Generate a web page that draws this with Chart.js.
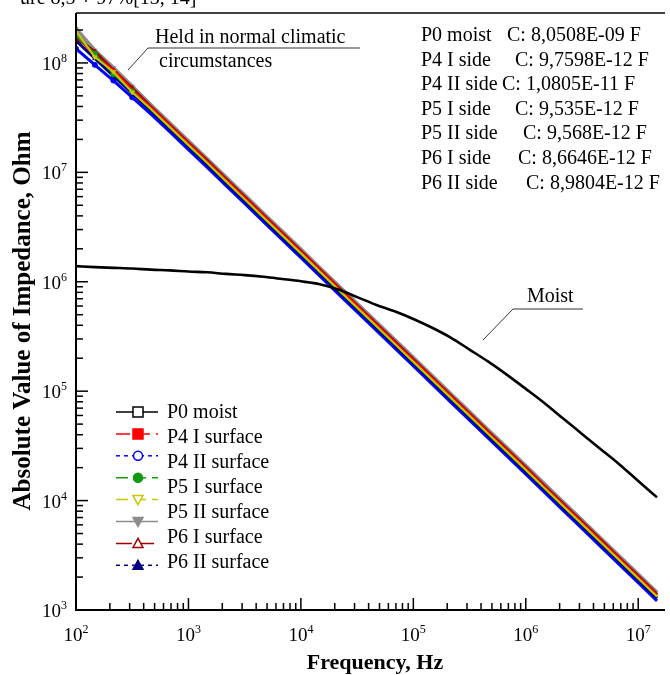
<!DOCTYPE html>
<html>
<head>
<meta charset="utf-8">
<script src="https://cdn.jsdelivr.net/npm/chart.js@4.4.0/dist/chart.umd.min.js"></script>
<style>
  html, body { margin:0; padding:0; background:#fff; }
  #wrap { width:670px; height:675px; }
</style>
</head>
<body>
<div id="wrap"><canvas id="chart" width="670" height="675"></canvas></div>
<script>

// frequency points, Hz
const freq = [100, 147, 215, 316, 464, 681, 1000, 1470, 2150, 3160, 4640, 6810,
  1e4, 1.47e4, 2.15e4, 3.16e4, 4.64e4, 6.81e4, 1e5, 1.47e5, 2.15e5, 3.16e5, 4.64e5, 6.81e5,
  1e6, 1.47e6, 2.15e6, 3.16e6, 4.64e6, 6.81e6, 1e7, 1.47e7]

// |Z|, Ohm
const p0Moist = [1.39e6, 1.36e6, 1.34e6, 1.32e6, 1.29e6, 1.27e6, 1.24e6, 1.22e6, 1.18e6, 1.15e6, 1.11e6, 1.06e6,
  1.01e6, 9.5e5, 8.5e5, 7.24e5, 6.17e5, 5.37e5, 4.57e5, 3.80e5, 3.09e5, 2.40e5, 1.86e5, 1.41e5,
  1.05e5, 7.76e4, 5.62e4, 4.07e4, 2.95e4, 2.14e4, 1.51e4, 1.07e4]
const p4I = [1.85e8, 1.16e8, 8.5e7, 5.6e7, 3.89e7, 2.66e7, 1.82e7, 1.25e7, 8.51e6, 5.82e6, 3.98e6, 2.72e6,
  1.86e6, 1.27e6, 8.71e5, 5.95e5, 4.07e5, 2.78e5, 1.90e5, 1.30e5, 8.91e4, 6.10e4, 4.16e4, 2.85e4,
  1.95e4, 1.33e4, 9.11e3, 6.24e3, 4.27e3, 2.92e3, 1.99e3, 1.36e3]
const p4II = [1.35e8, 9.6e7, 6.9e7, 4.85e7, 3.40e7, 2.35e7, 1.61e7, 1.11e7, 7.59e6, 5.19e6, 3.55e6, 2.43e6,
  1.66e6, 1.13e6, 7.76e5, 5.31e5, 3.63e5, 2.48e5, 1.70e5, 1.16e5, 7.94e4, 5.44e4, 3.71e4, 2.54e4,
  1.74e4, 1.19e4, 8.13e3, 5.56e3, 3.80e3, 2.60e3, 1.78e3, 1.21e3]
const p5I = [1.78e8, 1.21e8, 7.9e7, 5.5e7, 3.76e7, 2.57e7, 1.76e7, 1.21e7, 8.23e6, 5.63e6, 3.85e6, 2.63e6,
  1.80e6, 1.23e6, 8.42e5, 5.76e5, 3.94e5, 2.69e5, 1.84e5, 1.26e5, 8.61e4, 5.89e4, 4.03e4, 2.76e4,
  1.89e4, 1.29e4, 8.81e3, 6.03e3, 4.12e3, 2.82e3, 1.93e3, 1.32e3]
const p5II = [1.95e8, 1.13e8, 8.3e7, 5.4e7, 3.80e7, 2.60e7, 1.78e7, 1.22e7, 8.32e6, 5.69e6, 3.89e6, 2.66e6,
  1.82e6, 1.24e6, 8.51e5, 5.82e5, 3.98e5, 2.72e5, 1.86e5, 1.27e5, 8.71e4, 5.96e4, 4.07e4, 2.79e4,
  1.91e4, 1.30e4, 8.91e3, 6.10e3, 4.17e3, 2.85e3, 1.95e3, 1.33e3]
const p5IIb = [2.05e8, 1.30e8, 9.0e7, 6.1e7, 4.12e7, 2.82e7, 1.93e7, 1.32e7, 9.02e6, 6.17e6, 4.22e6, 2.88e6,
  1.97e6, 1.34e6, 9.22e5, 6.31e5, 4.31e5, 2.95e5, 2.02e5, 1.38e5, 9.44e4, 6.46e4, 4.41e4, 3.02e4,
  2.07e4, 1.41e4, 9.66e3, 6.61e3, 4.52e3, 3.09e3, 2.11e3, 1.44e3]
const p6I = [1.70e8, 1.27e8, 8.6e7, 5.9e7, 3.98e7, 2.72e7, 1.86e7, 1.28e7, 8.71e6, 5.96e6, 4.07e6, 2.79e6,
  1.91e6, 1.30e6, 8.91e5, 6.09e5, 4.17e5, 2.85e5, 1.95e5, 1.33e5, 9.12e4, 6.24e4, 4.26e4, 2.92e4,
  2.00e4, 1.36e4, 9.33e3, 6.39e3, 4.37e3, 2.98e3, 2.04e3, 1.39e3]
const p6II = [1.60e8, 1.10e8, 7.6e7, 5.3e7, 3.67e7, 2.51e7, 1.72e7, 1.18e7, 8.04e6, 5.50e6, 3.76e6, 2.57e6,
  1.76e6, 1.20e6, 8.22e5, 5.62e5, 3.84e5, 2.63e5, 1.80e5, 1.23e5, 8.41e4, 5.76e4, 3.93e4, 2.70e4,
  1.85e4, 1.26e4, 8.61e3, 5.89e3, 4.03e3, 2.75e3, 1.88e3, 1.28e3]

const legendText = ['P0 moist', 'P4 I surface', 'P4 II surface', 'P5 I surface', 'P5 II surface', 'P6 I surface', 'P6 II surface']
const sideNames = ['P0 moist', 'P4 I side', 'P4 II side', 'P5 I side', 'P5 II side', 'P6 I side', 'P6 II side']
const sideCaps = ['C: 8,0508E-09 F', 'C: 9,7598E-12 F', 'C: 1,0805E-11 F', 'C: 9,535E-12 F', 'C: 9,568E-12 F', 'C: 8,6646E-12 F', 'C: 8,9804E-12 F']
const xDecades = [2, 3, 4, 5, 6, 7]
const yDecades = [3, 4, 5, 6, 7, 8]

const SERIF = '"Liberation Serif", "Times New Roman", serif'

// series look: color, dash, marker, filled, rotation, draw order (higher = further back)
const series = [
  { label: 'P0 moist',        data: p0Moist, color: '#000000', dash: [],      marker: 'rect',     filled: false, rot: 0,   width: 2.6, order: 0 },
  { label: 'P4 I surface',    data: p4I,     color: '#ff0000', dash: [14, 6], marker: 'rect',     filled: true,  rot: 0,   width: 3,   order: 3 },
  { label: 'P4 II surface',   data: p4II,    color: '#0000ff', dash: [4, 4],  marker: 'circle',   filled: false, rot: 0,   width: 3,   order: 7 },
  { label: 'P5 I surface',    data: p5I,     color: '#129a12', dash: [12, 6], marker: 'circle',   filled: true,  rot: 0,   width: 2,   order: 2 },
  { label: 'P5 II surface',   data: p5II,    color: '#c8c800', dash: [12, 6], marker: 'triangle', filled: false, rot: 180, width: 2,   order: 1 },
  { label: 'P5 II surface b', data: p5IIb,   color: '#8c8c8c', dash: [],      marker: 'triangle', filled: true,  rot: 180, width: 4,   order: 8 },
  { label: 'P6 I surface',    data: p6I,     color: '#a00000', dash: [16, 6], marker: 'triangle', filled: false, rot: 0,   width: 3,   order: 5 },
  { label: 'P6 II surface',   data: p6II,    color: '#000080', dash: [4, 4],  marker: 'triangle', filled: true,  rot: 0,   width: 3,   order: 6 },
]

function getDataSets(){
  return series.map((s, i) => ({
    label: s.label,
    data: s.data.map((v, k) => ({ x: freq[k], y: v })),
    borderColor: s.color,
    borderWidth: s.width,
    pointStyle: s.marker,
    pointRotation: s.rot,
    // scattered markers only visible in the noisy low-frequency start
    pointRadius: (c) => (i === 0 || c.dataIndex > 3) ? 0 : 2.5,
    pointBorderWidth: 1,
    pointBorderColor: s.color,
    pointBackgroundColor: s.color,
    tension: 0,
    cubicInterpolationMode: i === 0 ? 'monotone' : 'default',
    fill: false,
    order: s.order
  }))
}

function drawMarker(ctx, s, x, y, r){
  ctx.beginPath()
  if(s.marker === 'rect'){ ctx.rect(x - r, y - r, 2 * r, 2 * r) }
  else if(s.marker === 'circle'){ ctx.arc(x, y, r, 0, Math.PI * 2) }
  else {
    const d = s.rot === 180 ? -1 : 1
    ctx.moveTo(x, y - d * r)
    ctx.lineTo(x + r, y + d * r * 0.8)
    ctx.lineTo(x - r, y + d * r * 0.8)
    ctx.closePath()
  }
  ctx.fillStyle = s.filled ? s.color : '#ffffff'
  ctx.fill()
  ctx.setLineDash([])
  ctx.lineWidth = 1.5
  ctx.strokeStyle = s.color
  ctx.stroke()
}

function powLabel(ctx, k, x, y, align){
  ctx.font = '19px ' + SERIF
  const w1 = ctx.measureText('10').width
  ctx.font = '12px ' + SERIF
  const w2 = ctx.measureText(String(k)).width
  let left = align === 'right' ? x - w1 - w2 : x - (w1 + w2) / 2
  ctx.textAlign = 'left'
  ctx.textBaseline = 'alphabetic'
  ctx.font = '19px ' + SERIF
  ctx.fillText('10', left, y)
  ctx.font = '12px ' + SERIF
  ctx.fillText(String(k), left + w1, y - 8)
}

const framePlugin = {
  id: 'frame',
  afterDraw(chart){
    const ctx = chart.ctx, a = chart.chartArea
    const xs = chart.scales.x, ys = chart.scales.y
    ctx.save()
    ctx.fillStyle = '#000'
    ctx.strokeStyle = '#000'

    // axes box
    ctx.lineWidth = 2
    ctx.beginPath()
    ctx.moveTo(a.left, a.top); ctx.lineTo(a.left, a.bottom); ctx.lineTo(a.right, a.bottom)
    ctx.stroke()
    ctx.lineWidth = 1.3
    ctx.beginPath(); ctx.moveTo(a.left, a.top); ctx.lineTo(a.right, a.top); ctx.stroke()

    // inward ticks
    ctx.lineWidth = 1.5
    for(let k = 2; k <= 8; k++){
      for(let m = 1; m <= 9; m++){
        const v = m * Math.pow(10, k)
        const len = m === 1 ? 12 : 7
        if(v >= xs.min && v <= xs.max){
          const px = xs.getPixelForValue(v)
          ctx.beginPath(); ctx.moveTo(px, a.bottom); ctx.lineTo(px, a.bottom - len); ctx.stroke()
        }
        if(v >= ys.min && v <= ys.max){
          const py = ys.getPixelForValue(v)
          ctx.beginPath(); ctx.moveTo(a.left, py); ctx.lineTo(a.left + len, py); ctx.stroke()
        }
      }
    }

    // tick labels
    xDecades.forEach(k => powLabel(ctx, k, xs.getPixelForValue(Math.pow(10, k)), 641, 'center'))
    yDecades.forEach(k => powLabel(ctx, k, 67, ys.getPixelForValue(Math.pow(10, k)) + 7, 'right'))

    // axis titles
    ctx.font = 'bold 22px ' + SERIF
    ctx.textAlign = 'center'
    ctx.textBaseline = 'alphabetic'
    ctx.fillText('Frequency, Hz', 375, 669)
    ctx.save()
    ctx.translate(30, 321)
    ctx.rotate(-Math.PI / 2)
    ctx.font = 'bold 25px ' + SERIF
    ctx.fillText('Absolute Value of Impedance, Ohm', 0, 0)
    ctx.restore()

    // cut-off caption line at the top
    ctx.font = '20px ' + SERIF
    ctx.textAlign = 'left'
    ctx.fillText('ure 8,5 ÷ 97%[13, 14]', 20, 4)

    // annotations
    ctx.font = '20px ' + SERIF
    ctx.fillText('Held in normal climatic', 155, 43)
    ctx.fillText('circumstances', 159, 67)
    ctx.fillText('Moist', 527, 302)
    ctx.lineWidth = 1
    ctx.strokeStyle = '#333'
    ctx.beginPath()
    ctx.moveTo(360, 48); ctx.lineTo(148, 48); ctx.lineTo(128, 70)
    ctx.moveTo(583, 309); ctx.lineTo(513, 309); ctx.lineTo(483, 340)
    ctx.stroke()

    // capacitance block
    ctx.fillStyle = '#000'
    const capX = [507, 515, 502, 515, 523, 518, 526]
    sideNames.forEach((n, i) => {
      const y = 41 + 24.6 * i
      ctx.fillText(n, 421, y)
      ctx.fillText(sideCaps[i], capX[i], y)
    })

    // legend: symbols
    series.forEach((s, i) => {
      const y = 412 + 21.9 * i
      ctx.setLineDash(s.dash)
      ctx.lineWidth = 1.5
      ctx.strokeStyle = s.color
      ctx.beginPath(); ctx.moveTo(116, y); ctx.lineTo(158, y); ctx.stroke()
      drawMarker(ctx, s, 138, y, s.marker === 'circle' ? 4.5 : 5)
    })
    ctx.setLineDash([])
    // legend: texts
    ctx.fillStyle = '#000'
    ctx.font = '20px ' + SERIF
    ctx.textBaseline = 'middle'
    legendText.forEach((t, i) => ctx.fillText(t, 167, 413 + 25 * i))

    ctx.restore()
  }
}

const setup = {
  type: 'line',
  data: { datasets: getDataSets() },
  options: {
    responsive: false,
    animation: false,
    layout: { padding: { left: 76, top: 13, right: 0, bottom: 65 } },
    scales: {
      x: { type: 'logarithmic', min: 100, max: 1.73e7, display: false },
      y: { type: 'logarithmic', min: 1000, max: 2.86e8, display: false }
    },
    plugins: {
      legend: { display: false },
      tooltip: { enabled: false }
    }
  },
  plugins: [framePlugin]
}

new Chart(document.getElementById('chart'), setup)

</script>
</body>
</html>
